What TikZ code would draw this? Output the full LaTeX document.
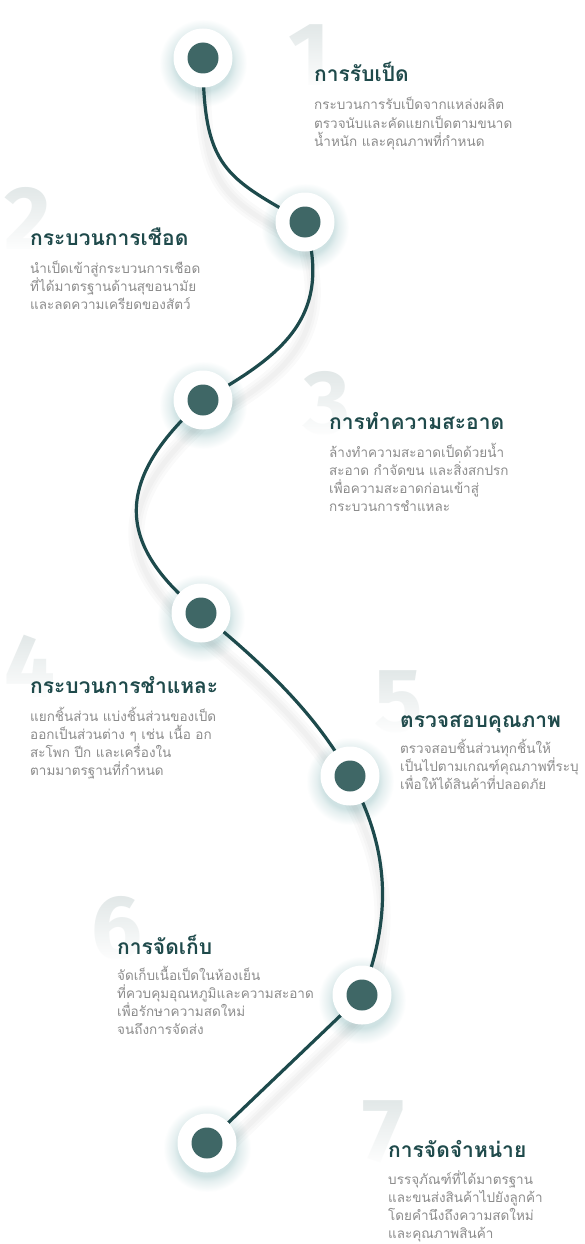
\documentclass[tikz,border=0pt]{standalone}
\usepackage{fontspec}
\setmainfont{Noto Sans}
\newfontfamily\thaifont[Script=Thai]{Loma}
\newfontfamily\digitfont{Fira Sans}
\usetikzlibrary{positioning,fadings}

\definecolor{pathteal}{HTML}{1D4A4C}
\definecolor{dotteal}{HTML}{3F6766}
\definecolor{titleteal}{HTML}{1F4A4B}
\definecolor{bodygray}{HTML}{8C8C8C}
\definecolor{digitgray}{HTML}{E2E8E8}
\definecolor{glowteal}{HTML}{CFE2E3}

\pgfdeclarelayer{paper}
\pgfdeclarelayer{glow}
\pgfdeclarelayer{track}
\pgfsetlayers{paper,glow,track,main}

\tikzfading[name=digitfade, top color=transparent!100, middle color=transparent!80, bottom color=transparent!5]
\pgfdeclareradialshading{dotglow}{\pgfpoint{0bp}{0bp}}{color(0bp)=(glowteal); color(16bp)=(glowteal); color(19bp)=(glowteal!55!white); color(25bp)=(white); color(50bp)=(white)}

\tikzset{
  stepdot/.style={circle, fill=white, minimum size=59pt, inner sep=0pt,
    path picture={\fill[dotteal] (path picture bounding box.center) circle[radius=15.5pt];}},
  steptitle/.style={anchor=base west, inner sep=0pt, text=titleteal, font=\thaifont\bfseries\fontsize{21}{24}\selectfont},
  stepbody/.style={anchor=base west, inner sep=0pt, text=bodygray, font=\thaifont\fontsize{13.5}{18.2}\selectfont},
  stepnum/.style={anchor=base west, inner sep=0pt, text=digitgray, font=\digitfont\bfseries\fontsize{90}{90}\selectfont},
  pathline/.style={draw=pathteal, line width=3.2pt},
  pathshadow/.style={draw=black, line width=#1, opacity=0.02, transform canvas={yshift=-22pt}},
}

% the winding route between the dots
\newcommand{\duckroute}{(s1.center) .. controls +(0,110) and +(-80,-45) .. (s2.center)
  .. controls +(28,95) and +(80,-45) .. (s3.center)
  .. controls +(-95,85) and +(-80,-65) .. (s4.center)
  .. controls +(55,45) and +(-35,-65) .. (s5.center)
  .. controls +(40,75) and +(30,-80) .. (s6.center)
  -- (s7.center)}

\begin{document}
\begin{tikzpicture}[x=1pt, y=-1pt]
  \useasboundingbox (0,0) rectangle (584,1244);
  \begin{pgfonlayer}{paper}
    \fill[white] (0,0) rectangle (584,1244);
  \end{pgfonlayer}

  % Dots
  \node[stepdot] (s1) at (203,58) {};
  \node[stepdot] (s2) at (305,222) {};
  \node[stepdot] (s3) at (203,400) {};
  \node[stepdot] (s4) at (201,613) {};
  \node[stepdot] (s5) at (350,776) {};
  \node[stepdot] (s6) at (362,995) {};
  \node[stepdot] (s7) at (207,1143) {};

  % Step 1
  \node[steptitle] (t1) at (314,82) {การรับเป็ด};
  \node[stepbody] (b1) at ([yshift=-28pt]t1.base west) {\parbox[t]{260pt}{กระบวนการรับเป็ดจากแหล่งผลิต\\ตรวจนับและคัดแยกเป็ดตามขนาด\\น้ำหนัก และคุณภาพที่กำหนด}};

  % Step 2
  \node[steptitle] (t2) at (30,245) {กระบวนการเชือด};
  \node[stepbody] (b2) at ([yshift=-28pt]t2.base west) {\parbox[t]{260pt}{นำเป็ดเข้าสู่กระบวนการเชือด\\ที่ได้มาตรฐานด้านสุขอนามัย\\และลดความเครียดของสัตว์}};

  % Step 3
  \node[steptitle] (t3) at (329,429) {การทำความสะอาด};
  \node[stepbody] (b3) at ([yshift=-28pt]t3.base west) {\parbox[t]{260pt}{ล้างทำความสะอาดเป็ดด้วยน้ำ\\สะอาด กำจัดขน และสิ่งสกปรก\\เพื่อความสะอาดก่อนเข้าสู่\\กระบวนการชำแหละ}};

  % Step 4
  \node[steptitle] (t4) at (30,693) {กระบวนการชำแหละ};
  \node[stepbody] (b4) at ([yshift=-28pt]t4.base west) {\parbox[t]{260pt}{แยกชิ้นส่วน แบ่งชิ้นส่วนของเป็ด\\ออกเป็นส่วนต่าง ๆ เช่น เนื้อ อก\\สะโพก ปีก และเครื่องใน\\ตามมาตรฐานที่กำหนด}};

  % Step 5
  \node[steptitle] (t5) at (400,727) {ตรวจสอบคุณภาพ};
  \node[stepbody] (b5) at ([yshift=-26pt]t5.base west) {\parbox[t]{200pt}{ตรวจสอบชิ้นส่วนทุกชิ้นให้\\เป็นไปตามเกณฑ์คุณภาพที่ระบุ\\เพื่อให้ได้สินค้าที่ปลอดภัย}};

  % Step 6
  \node[steptitle] (t6) at (117,954) {การจัดเก็บ};
  \node[stepbody] (b6) at ([yshift=-26pt]t6.base west) {\parbox[t]{260pt}{จัดเก็บเนื้อเป็ดในห้องเย็น\\ที่ควบคุมอุณหภูมิและความสะอาด\\เพื่อรักษาความสดใหม่\\จนถึงการจัดส่ง}};

  % Step 7
  \node[steptitle] (t7) at (388,1157) {การจัดจำหน่าย};
  \node[stepbody] (b7) at ([yshift=-27pt]t7.base west) {\parbox[t]{190pt}{บรรจุภัณฑ์ที่ได้มาตรฐาน\\และขนส่งสินค้าไปยังลูกค้า\\โดยคำนึงถึงความสดใหม่\\และคุณภาพสินค้า}};

  % Soft glow under each dot
  \begin{pgfonlayer}{glow}
    \foreach \i in {1,...,7}
      \shade[shading=dotglow] ([yshift=-5pt]s\i.center) circle[radius=44pt];
  \end{pgfonlayer}

  \begin{pgfonlayer}{track}
    % blurred shadow of the route
    \foreach \w in {16pt,10pt,5pt}
      \draw[pathshadow=\w] \duckroute;
    % big faded step numbers
    \foreach \i in {1,...,7} {
      \node[stepnum] (n\i) at ([xshift=-26pt, yshift=-4pt]t\i.base west) {\i};
      \fill[white, path fading=digitfade] (n\i.north west) rectangle (n\i.south east);
    }
    % the route
    \draw[pathline] \duckroute;
  \end{pgfonlayer}
\end{tikzpicture}
\end{document}
